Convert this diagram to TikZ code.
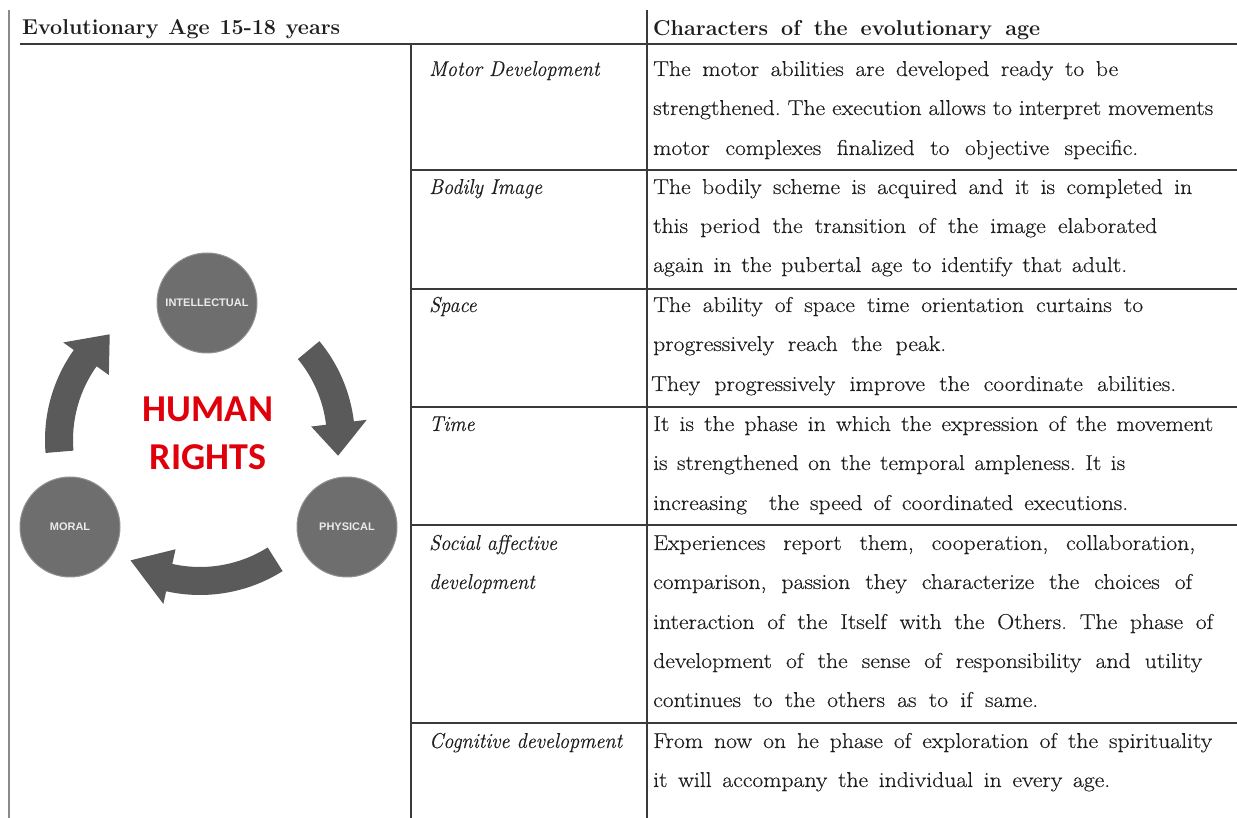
\documentclass[tikz,border=0pt]{standalone}
\usepackage{fontspec}
\newfontfamily\bodyfont{Latin Modern Roman}[FakeStretch=1.10, FakeBold=0.35]
\newfontfamily\headfont{Latin Modern Roman}
\newfontfamily\aspectfont{Latin Modern Roman}[FakeStretch=0.94, FakeBold=0.3]
\newfontfamily\bannerfont{Carlito}
\newfontfamily\discfont{Liberation Sans}
\usetikzlibrary{calc}
\frenchspacing

\definecolor{rulegray}{HTML}{3A3A3A}
\definecolor{edgegray}{HTML}{8A8A8A}
\definecolor{discgray}{HTML}{6E6E6E}
\definecolor{arrowgray}{HTML}{5A5A5A}
\definecolor{bannerred}{HTML}{E0000B}
\definecolor{inkgray}{HTML}{1E1E1E}

\tikzset{
  cell/.style={anchor=base west, inner sep=0pt, text=inkgray,
    font=\bodyfont\fontsize{21.5}{24}\selectfont},
  aspect/.style={cell, font=\aspectfont\itshape\fontsize{21.5}{24}\selectfont},
  headline/.style={cell, font=\headfont\bfseries\fontsize{21.5}{24}\selectfont},
  tablerule/.style={draw=rulegray, line width=1.2pt},
  siderule/.style={draw=edgegray, line width=1.4pt},
  disc/.style={circle, fill=discgray, draw=discgray!75!white, line width=1pt,
    minimum size=100pt, inner sep=0pt, text=white!92!black,
    font=\discfont\bfseries\fontsize{11}{12}\selectfont},
  banner/.style={anchor=base, inner sep=0pt, text=bannerred,
    font=\bannerfont\bfseries\fontsize{38}{40}\selectfont},
}

% one line of cell text, spread to a given width
\newcommand\spreadline[5][cell]{%
  \node[#1] (#2) at (#3) {\makebox[#4pt][s]{#5}};}

% curved cycle arrow: centre, tail angle, head-base angle, tip angle
\newcommand\cyclearrow[4]{%
  \fill[arrowgray] ($(#1)+(#2:155pt)$) arc[start angle=#2, end angle=#3, radius=155pt]
    -- ($(#1)+(#3:168pt)$) -- ($(#1)+(#4:139pt)$) -- ($(#1)+(#3:112pt)$)
    -- ($(#1)+(#3:127pt)$) arc[start angle=#3, end angle=#2, radius=127pt] -- cycle;}

\begin{document}
\begin{tikzpicture}[x=1pt, y=1pt]
\useasboundingbox (0,0) rectangle (1237,818);
\fill[white] (0,0) rectangle (1237,818);

% ---- table frame ----
\coordinate (lt) at (9,808);  \coordinate (lb) at (9,0);
\coordinate (mt) at (647,808); \coordinate (mb) at (647,0);
\coordinate (ct) at (411,774); \coordinate (cb) at (411,0);
\draw[siderule] (lt) -- (lb);
\draw[tablerule] (mt) -- (mb);
\draw[tablerule] (ct) -- (cb);
\coordinate (h0) at (20,774); \coordinate (h1) at (1237,774);
\draw[tablerule] (h0) -- (h1);
\foreach \yy [count=\k] in {648,529,411,293,95}{
  \coordinate (ra\k) at (411,\yy); \coordinate (rb\k) at (1237,\yy);
  \draw[tablerule] (ra\k) -- (rb\k);
}

% ---- headers ----
\spreadline[headline]{hleft}{22,783}{318}{Evolutionary Age 15-18 years}
\spreadline[headline]{hright}{653,782}{387}{Characters of the evolutionary age}

% ---- aspects ----
\node[aspect] (a1) at (429,742) {Motor Development};
\node[aspect] (a2) at (429,624) {Bodily Image};
\node[aspect] (a3) at (429,506) {Space};
\node[aspect] (a4) at (429,387) {Time};
\node[aspect] (a5) at (429,268) {Social affective};
\node[aspect] (a5b) at (429,229) {development};
\node[aspect] (a6) at (429,70) {Cognitive development};

% ---- characters ----
\spreadline{t1a}{653,742}{465}{The motor abilities are developed ready to be}
\spreadline{t1b}{653,703}{560}{strengthened. The execution allows to interpret movements}
\spreadline{t1c}{653,663}{485}{motor complexes finalized to objective specific.}
\spreadline{t2a}{653,624}{539}{The bodily scheme is acquired and it is completed in}
\spreadline{t2b}{653,585}{504}{this period the transition of the image elaborated}
\spreadline{t2c}{653,546}{474}{again in the pubertal age to identify that adult.}
\spreadline{t3a}{653,506}{490}{The ability of space time orientation curtains to}
\spreadline{t3b}{653,467}{293}{progressively reach the peak.}
\spreadline{t3c}{651,427}{525}{They progressively improve the coordinate abilities.}
\spreadline{t4a}{653,387}{560}{It is the phase in which the expression of the movement}
\spreadline{t4b}{653,348}{472}{is strengthened on the temporal ampleness. It is}
\spreadline{t4c}{653,308}{475}{increasing\ \ the speed of coordinated executions.}
\spreadline{t5a}{653,268}{542}{Experiences report them, cooperation, collaboration,}
\spreadline{t5b}{653,229}{539}{comparison, passion they characterize the choices of}
\spreadline{t5c}{653,189}{560}{interaction of the Itself with the Others. The phase of}
\spreadline{t5d}{653,150}{549}{development of the sense of responsibility and utility}
\spreadline{t5e}{653,111}{385}{continues to the others as to if same.}
\spreadline{t6a}{653,70}{559}{From now on he phase of exploration of the spirituality}
\spreadline{t6b}{653,31}{457}{it will accompany the individual in every age.}

% ---- cycle ----
\coordinate (cyc) at (200,378);
\cyclearrow{cyc}{39.6}{6.9}{-6.5}
\cyclearrow{cyc}{-57.8}{-102.6}{-120}
\cyclearrow{cyc}{184.8}{144.5}{130.5}

\node[disc] (intellectual) at (207,515) {INTELLECTUAL};
\node[disc] (moral) at (70,291) {MORAL};
\node[disc] (physical) at (347,291) {PHYSICAL};

\node[banner] (human) at (208,396) {HUMAN};
\node[banner] (rights) at (208,348) {RIGHTS};
\end{tikzpicture}
\end{document}
